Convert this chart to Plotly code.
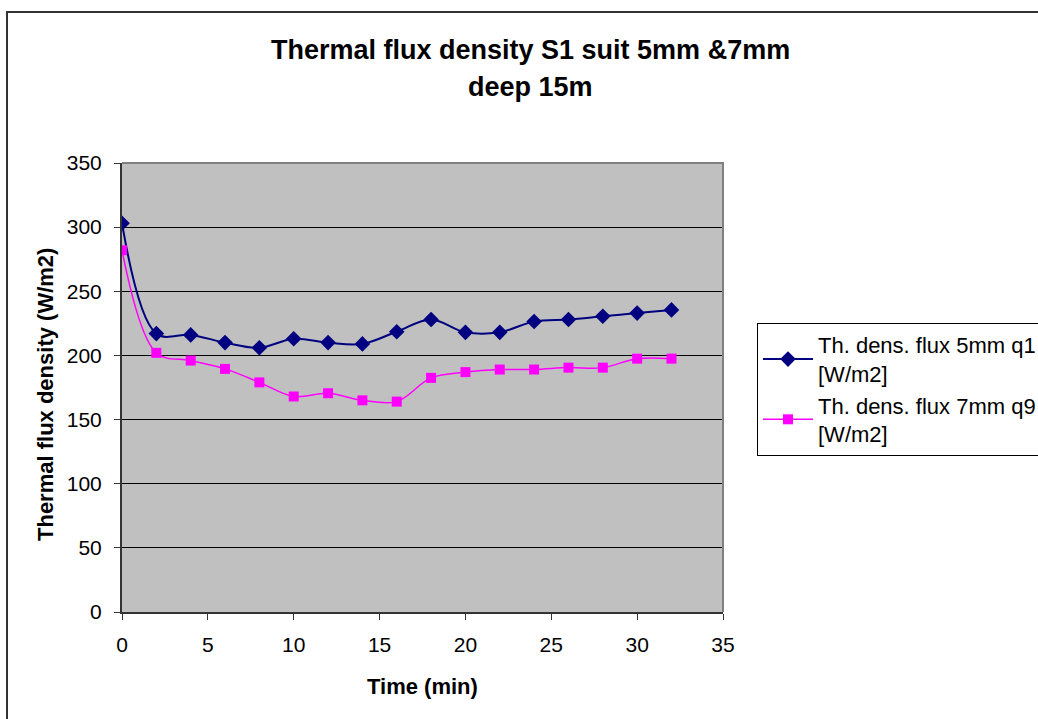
import plotly.graph_objects as go

# Time points (min) and measured thermal flux densities (W/m2)
time_min = [0, 2, 4, 6, 8, 10, 12, 14, 16, 18, 20, 22, 24, 26, 28, 30, 32]
flux_5mm_q1 = [303, 217, 216, 210, 206, 213, 210, 209, 218.5, 228, 218, 218,
               226.5, 228, 230.5, 233, 235.5]
flux_7mm_q9 = [282, 202, 196, 189.5, 179, 168, 170.5, 165, 164, 182.5, 187,
               189, 189, 190.5, 190.5, 197.5, 197.5]

series_names = ["Th. dens. flux 5mm q1<br>[W/m2]",
                "Th. dens. flux 7mm q9<br>[W/m2]"]
title_lines = ["Thermal flux density S1 suit 5mm &7mm", "deep 15m"]
x_title = "Time (min)"
y_title = "Thermal flux density (W/m2)"
x_ticks = [0, 5, 10, 15, 20, 25, 30, 35]
y_ticks = [0, 50, 100, 150, 200, 250, 300, 350]

FONT = "Liberation Sans, Arial, sans-serif"

W, H = 1038, 719
L, R, T, B = 122, 315, 163, 107
pw, ph = W - L - R, H - T - B


def px_to_paper(px, py):
    return (px - L) / pw, (H - B - py) / ph


fig = go.Figure()
fig.add_trace(go.Scatter(
    x=time_min, y=flux_5mm_q1, name=series_names[0], mode="lines+markers",
    line=dict(color="#000080", width=2, shape="spline", smoothing=1),
    marker=dict(symbol="diamond", size=12, color="#000080"),
))
fig.add_trace(go.Scatter(
    x=time_min, y=flux_7mm_q9, name=series_names[1], mode="lines+markers",
    line=dict(color="#FF00FF", width=1.5, shape="spline", smoothing=1),
    marker=dict(symbol="square", size=10, color="#FF00FF"),
))

# Outer chart frame (runs off the right and bottom of the page)
fx0, fy0 = px_to_paper(7, 12)
fig.add_shape(type="rect", xref="paper", yref="paper",
              x0=fx0, y0=-0.5, x1=2.0, y1=fy0,
              line=dict(color="#333333", width=2), layer="above")

# Grey border on top and right of the plot area
fig.add_shape(type="path", xref="paper", yref="paper",
              path="M 0,1 L 1,1 L 1,0",
              line=dict(color="#808080", width=2), layer="above")

# Title lines
t1x, t1y = px_to_paper(530, 50)
t2x, t2y = px_to_paper(530, 87)
for txt, yy in zip(title_lines, [t1y, t2y]):
    fig.add_annotation(text=f"<b>{txt}</b>", xref="paper", yref="paper",
                       x=t1x, y=yy, xanchor="center", yanchor="middle",
                       showarrow=False, font=dict(family=FONT, size=27, color="black"))

# Axis titles
_, xty = px_to_paper(0, 686)
fig.add_annotation(text=f"<b>{x_title}</b>", xref="paper", yref="paper",
                   x=0.5, y=xty, xanchor="center", yanchor="middle",
                   showarrow=False, font=dict(family=FONT, size=22, color="black"))
ytx, yty = px_to_paper(45, 395)
fig.add_annotation(text=f"<b>{y_title}</b>", xref="paper", yref="paper",
                   x=ytx, y=yty, xanchor="center", yanchor="middle", textangle=-90,
                   showarrow=False, font=dict(family=FONT, size=22, color="black"))

lgx, lgy = px_to_paper(757, 323)
fig.update_layout(
    width=W, height=H,
    margin=dict(l=L, r=R, t=T, b=B, autoexpand=False),
    paper_bgcolor="white",
    plot_bgcolor="#C0C0C0",
    font=dict(family=FONT, size=20, color="black"),
    showlegend=True,
    legend=dict(x=lgx, y=lgy, xanchor="left", yanchor="top",
                bgcolor="white", bordercolor="black", borderwidth=1,
                font=dict(family=FONT, size=22, color="black"),
                tracegroupgap=6, itemwidth=50),
    xaxis=dict(range=[0, 35], tickvals=x_ticks, showgrid=False, zeroline=False,
               showline=True, linecolor="#333333", linewidth=2,
               ticks="outside", ticklen=6, tickcolor="#333333", tickwidth=1,
               ticklabelstandoff=7, tickfont=dict(size=21)),
    yaxis=dict(range=[0, 350], tickvals=y_ticks, showgrid=True,
               gridcolor="black", gridwidth=1, zeroline=False,
               showline=True, linecolor="#333333", linewidth=2,
               ticks="outside", ticklen=6, tickcolor="#333333", tickwidth=1,
               ticklabelstandoff=8, tickfont=dict(size=21)),
)

fig.write_html("out.html")
